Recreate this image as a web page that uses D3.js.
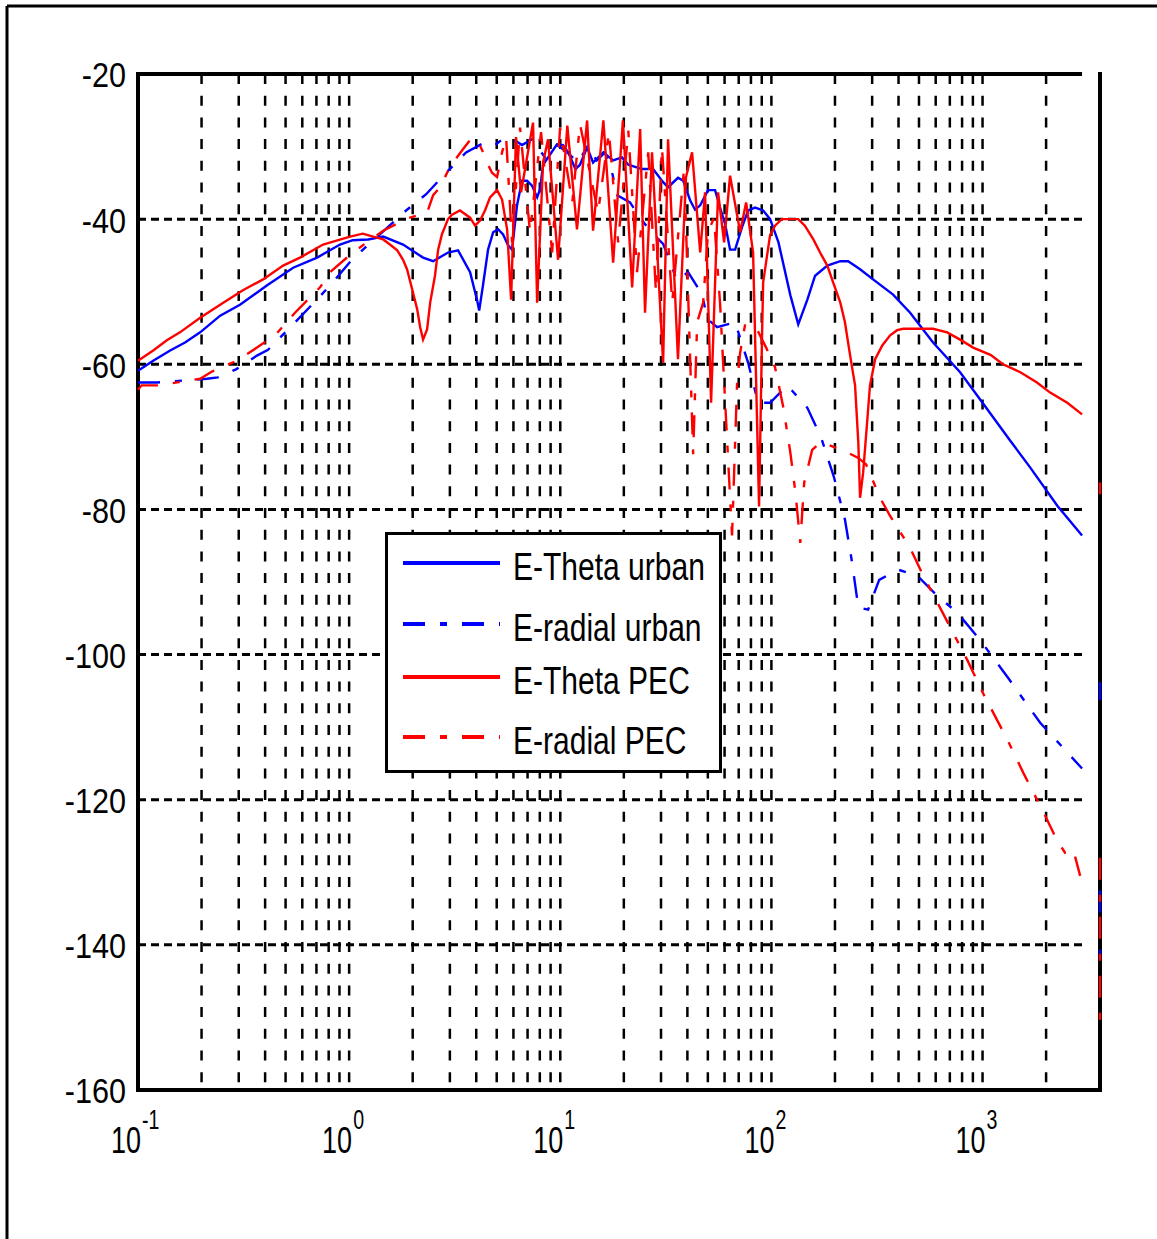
<!DOCTYPE html>
<html>
<head>
<meta charset="utf-8">
<script src="https://cdn.jsdelivr.net/npm/d3@7"></script>
<style>
body { margin: 0; background: #fff; }
svg { display: block; }
.lbl { font-family: "Liberation Sans", Arial, sans-serif; fill: #000; }
</style>
</head>
<body>
<svg id="chart" width="1157" height="1239"></svg>
<script>
// field level (dB) against frequency
// [frequency, dB]; null breaks the line
var thetaUrban = [[0.1,-60.9],[0.118,-59.5],[0.142,-58.1],[0.167,-57.0],[0.197,-55.6],[0.245,-53.3],[0.304,-51.8],[0.409,-49.1],[0.543,-46.7],[0.705,-45.3],[0.905,-43.5],[1.04,-42.9],[1.23,-42.8],[1.45,-42.4],[1.80,-43.5],[2.24,-45.3],[2.50,-45.8],[2.94,-44.6],[3.28,-44.3],[3.74,-47.3],[4.04,-51.2],[4.13,-52.6],[4.31,-49.0],[4.55,-44.2],[4.81,-41.8],[5.08,-41.4],[5.36,-42.1],[5.66,-43.6],[5.91,-44.2],[6.24,-38.1],[6.59,-34.7],[6.96,-34.7],[7.35,-35.4],[7.77,-37.0],[8.02,-35.9],[8.29,-32.5],[8.95,-31.1],[9.65,-29.7],[10.3,-29.8],[10.9,-30.8],[11.8,-33.1],[12.4,-32.5],[13.4,-30.1],[14.3,-32.2],[16.0,-30.8],[17.8,-31.9],[19.6,-31.5],[21.0,-32.5],[24.4,-33.1],[27.5,-33.1],[30.7,-34.9],[32.4,-35.6],[36.1,-34.3],[38.2,-34.7],[41.2,-37.4],[43.5,-38.7],[46.0,-38.1],[50.1,-36.0],[54.1,-36.0],[57.1,-38.4],[60.4,-40.7],[63.7,-44.2],[67.3,-44.2],[72.6,-41.1],[77.6,-38.8],[83.7,-38.4],[91.4,-38.8],[98.6,-40.0],[108,-43.2],[123,-50.5],[134,-54.5],[148,-51.1],[161,-47.8],[184,-46.4],[212,-45.8],[231,-45.8],[263,-46.9],[303,-48.3],[377,-50.4],[454,-52.9],[583,-57.0],[783,-61.1],[1000,-65.3],[1350,-70.5],[1680,-74.2],[2260,-79.5],[2960,-83.6]];

var radialUrban = [[0.1,-62.5],[0.123,-62.5],[0.212,-62.0],[0.239,-61.8],[0.291,-60.7],[0.366,-58.8],[0.413,-58.0],[0.446,-57.0],[0.543,-54.5],[0.697,-51.2],[0.821,-49.0],[1.03,-45.6],[1.88,-38.7],[2.31,-36.6],[2.88,-33.6],[3.58,-30.8],[4.40,-29.4],[4.91,-29.8],[5.48,-28.7],[5.91,-28.9],[6.59,-29.8],[7.35,-29.0],[8.47,-31.5],[9.65,-29.8],[10.8,-30.8],[12.1,-32.2],[13.4,-30.1],[14.9,-31.9],[16.3,-30.8],[17.6,-33.6],[18.6,-36.7],[21.4,-37.7],[23.9,-39.8],[26.6,-41.6],[30.7,-43.4],[35.8,-48.5],[40.3,-47.3],[47.0,-50.4],[49.6,-53.7],[55.3,-54.9],[67.3,-54.2],[77.6,-59.8],[86.5,-65.3],[98.6,-65.3],[119,-62.9],[148,-66.0],[172,-70.1],[198,-75.6],[223,-81.4],[241,-87.3],[258,-93.5],[287,-93.8],[324,-89.7],[398,-88.3],[490,-89.1],[610,-91.9],[758,-94.2],[974,-98.0],[1320,-103.2],[1875,-109.4],[2330,-112.4],[2960,-115.7],null,[3600,-103.8],[3600,-106.3],null,[3600,-132.5],[3600,-142]];

var thetaPec = [[0.1,-59.5],[0.118,-58.1],[0.137,-56.7],[0.158,-55.6],[0.197,-53.6],[0.245,-51.8],[0.314,-49.8],[0.391,-48.3],[0.487,-46.4],[0.585,-45.3],[0.753,-43.5],[1.01,-42.4],[1.16,-42.0],[1.30,-42.4],[1.45,-42.8],[1.56,-43.5],[1.69,-44.3],[1.80,-45.6],[1.88,-46.9],[1.99,-49.7],[2.10,-52.4],[2.17,-54.9],[2.24,-56.6],[2.34,-55.2],[2.42,-51.5],[2.55,-47.8],[2.64,-44.2],[2.75,-42.1],[2.94,-40.0],[3.07,-39.4],[3.35,-38.8],[3.74,-39.8],[3.95,-40.9],[4.17,-40.2],[4.40,-38.8],[4.65,-37.0],[5.02,-36.0],[5.30,-37.3],[5.60,-41.4],[5.85,-51.1],[6.17,-28.7],[6.52,-36.3],[6.96,-31.5],[7.43,-26.7],[7.77,-51.5],[8.29,-32.2],[8.75,-29.0],[9.76,-45.6],[10.8,-27.1],[12.0,-41.4],[13.4,-26.4],[14.3,-41.6],[16.0,-26.4],[17.8,-46.0],[19.8,-26.4],[21.9,-49.4],[23.9,-27.6],[25.2,-52.9],[27.2,-30.8],[30.7,-59.8],[32.4,-29.0],[36.1,-59.3],[39.4,-34.2],[42.1,-30.8],[46.0,-44.6],[48.5,-36.3],[51.8,-65.3],[55.9,-36.3],[59.7,-43.2],[63.7,-34.0],[71.1,-41.8],[75.9,-37.7],[81.9,-44.6],[87.4,-79.6],[90.3,-56.0],[91.4,-48.7],[95.4,-45.0],[98.6,-42.2],[104,-40.9],[112,-40.0],[134,-40.0],[144,-40.9],[158,-42.8],[170,-44.6],[184,-46.4],[196,-48.7],[212,-51.5],[223,-54.2],[236,-58.8],[249,-62.9],[258,-70.8],[263,-78.4],[272,-74.9],[284,-68.0],[293,-62.9],[310,-59.3],[335,-57.4],[365,-56.0],[394,-55.3],[421,-55.1],[583,-55.1],[680,-55.6],[783,-56.6],[903,-57.7],[1090,-58.7],[1250,-60.0],[1510,-61.1],[1810,-62.5],[2090,-63.9],[2520,-65.3],[2960,-66.9]];

var radialPec = [[0.1,-63.5],[0.104,-62.9],[0.124,-62.9],[0.153,-62.5],[0.197,-62.0],[0.224,-61.0],[0.294,-59.5],[0.366,-57.7],[0.446,-56.0],[0.554,-52.9],[0.728,-49.4],[0.812,-47.3],[1.04,-44.6],[1.45,-41.6],[1.88,-39.9],[2.34,-39.1],[2.50,-36.7],[2.70,-35.6],[2.91,-33.6],[3.11,-32.2],[3.43,-30.5],[3.74,-29.1],[4.04,-29.0],[4.31,-30.8],[4.50,-32.2],[4.75,-33.6],[5.02,-34.2],[5.30,-30.8],[5.54,-28.7],[5.91,-43.2],[6.45,-27.4],[7.19,-41.8],[8.11,-28.0],[9.15,-44.6],[9.98,-27.4],[11.4,-37.7],[12.4,-26.9],[15.1,-39.1],[17.0,-28.0],[18.8,-43.2],[21.0,-27.8],[23.1,-47.3],[26.1,-30.8],[28.4,-50.1],[30.3,-30.1],[33.9,-51.5],[38.6,-32.9],[42.6,-72.4],[44.5,-54.2],[47.5,-51.5],[50.1,-41.8],[53.5,-39.8],[57.1,-51.5],[65.1,-83.6],[68.8,-62.5],[71.1,-58.4],[75.1,-54.5],[85.5,-55.2],[94.4,-57.7],[104,-60.4],[114,-66.0],[123,-72.2],[130,-77.7],[137,-84.6],[143,-76.3],[156,-71.8],[170,-70.8],[186,-71.1],[231,-72.2],[258,-72.9],[281,-73.8],[327,-78.4],[365,-80.9],[454,-85.3],[523,-89.1],[610,-92.8],[845,-100.7],[1000,-105.2],[1320,-111.9],[1560,-116.3],[1980,-122.2],[2260,-125.7],[2460,-127.3],[2690,-126.9],[2900,-130.5],null,[3600,-76.3],[3600,-77.9],null,[3600,-128],[3600,-151.5]];

var legendNames = ['E-Theta urban', 'E-radial urban', 'E-Theta PEC', 'E-radial PEC'];
var yTicks = [-20, -40, -60, -80, -100, -120, -140, -160];
var yGrid = [-40, -60, -80, -100, -120, -140];
var xExponents = [-1, 0, 1, 2, 3];
var xGrid = [0.2,0.3,0.4,0.5,0.6,0.7,0.8,0.9,1,2,3,4,5,6,7,8,9,10,20,30,40,50,60,70,80,90,100,200,300,400,500,600,700,800,900,1000,2000];
var xGridEnd = 2960;   // last sample, grid and top edge stop here

var svg = d3.select('#chart');
var x = d3.scaleLog().domain([0.1, 3600]).range([138, 1100]);
var y = d3.scaleLinear().domain([-20, -160]).range([74, 1090]);

// outer frame (only left and top show in the picture)
svg.append('line').attr('x1', 7).attr('y1', 6).attr('x2', 7).attr('y2', 1239)
    .attr('stroke', '#000').attr('stroke-width', 3);
svg.append('line').attr('x1', 7).attr('y1', 6).attr('x2', 1157).attr('y2', 6)
    .attr('stroke', '#000').attr('stroke-width', 3);

// grid
svg.append('g').selectAll('line')
    .data(xGrid)
    .enter()
    .append('line')
        .attr('x1', function(d) { return x(d); })
        .attr('x2', function(d) { return x(d); })
        .attr('y1', y(-20))
        .attr('y2', y(-160))
        .attr('stroke', '#000')
        .attr('stroke-width', 2.5)
        .attr('stroke-dasharray', '10,11.7');
svg.append('g').selectAll('line')
    .data(yGrid)
    .enter()
    .append('line')
        .attr('x1', x(0.1))
        .attr('x2', x(xGridEnd))
        .attr('y1', function(d) { return y(d); })
        .attr('y2', function(d) { return y(d); })
        .attr('stroke', '#000')
        .attr('stroke-width', 3)
        .attr('stroke-dasharray', '8,5');

// axes box
var frame = svg.append('g').attr('stroke', '#000').attr('stroke-width', 4);
frame.append('line').attr('x1', x(0.1)).attr('x2', x(0.1)).attr('y1', y(-20) - 2).attr('y2', y(-160) + 2);
frame.append('line').attr('x1', x(0.1)).attr('x2', x(xGridEnd)).attr('y1', y(-20)).attr('y2', y(-20));
frame.append('line').attr('x1', x(0.1)).attr('x2', x(3600) + 2).attr('y1', y(-160)).attr('y2', y(-160));
frame.append('line').attr('x1', x(3600)).attr('x2', x(3600)).attr('y1', y(-20) - 2).attr('y2', y(-160));

// y tick labels (narrow glyphs like the original)
var yAxis = d3.axisLeft(y).tickValues(yTicks).tickSize(0).tickPadding(0)
    .tickFormat(function(d) { return String(d); });
var ya = svg.append('g').attr('transform', 'translate(' + x(0.1) + ',0)').call(yAxis);
ya.select('.domain').remove();
ya.selectAll('text')
    .attr('class', 'lbl')
    .attr('font-size', 36)
    .attr('x', 0)
    .attr('dy', '0.36em')
    .attr('transform', 'translate(-12,0) scale(0.85,1)');

// x tick labels, 10 with superscript exponent
var xl = svg.append('g').selectAll('g')
    .data(xExponents)
    .enter()
    .append('g')
        .attr('transform', function(e) { return 'translate(' + x(Math.pow(10, e)) + ',0)'; });
xl.append('text')
    .attr('class', 'lbl')
    .attr('font-size', 36)
    .attr('text-anchor', 'end')
    .attr('transform', 'translate(3,1153) scale(0.75,1)')
    .text('10');
xl.append('text')
    .attr('class', 'lbl')
    .attr('font-size', 28)
    .attr('transform', 'translate(4,1129) scale(0.7,1)')
    .text(function(e) { return e; });

// curves
var clip = svg.append('clipPath').attr('id', 'plotclip');
clip.append('rect').attr('x', x(0.1) - 2).attr('y', y(-20)).attr('width', x(3600) - x(0.1) + 4).attr('height', y(-160) - y(-20));

var line = d3.line()
    .defined(function(d) { return d != null; })
    .x(function(d) { return x(d[0]); })
    .y(function(d) { return y(d[1]); });

var curves = [
    { data: thetaUrban, color: '#0000ff', dash: null },
    { data: radialUrban, color: '#0000ff', dash: '22,15,7,15' },
    { data: thetaPec, color: '#ff0000', dash: null },
    { data: radialPec, color: '#ff0000', dash: '22,15,7,15' }
];

svg.append('g').attr('clip-path', 'url(#plotclip)')
    .selectAll('path')
    .data(curves)
    .enter()
    .append('path')
        .attr('d', function(c) { return line(c.data); })
        .attr('fill', 'none')
        .attr('stroke', function(c) { return c.color; })
        .attr('stroke-width', 2.4)
        .attr('stroke-dasharray', function(c) { return c.dash; });

// legend
var lg = svg.append('g');
lg.append('rect')
    .attr('x', 386.5).attr('y', 533.5).attr('width', 334).attr('height', 238)
    .attr('fill', '#fff').attr('stroke', '#000').attr('stroke-width', 3);
var rows = [563, 624, 677, 737];
var items = lg.selectAll('g.item')
    .data(curves)
    .enter()
    .append('g')
        .attr('class', 'item')
        .attr('transform', function(c, i) { return 'translate(0,' + rows[i] + ')'; });
items.append('line')
    .attr('x1', 403).attr('x2', 500)
    .attr('stroke', function(c) { return c.color; })
    .attr('stroke-width', 4)
    .attr('stroke-dasharray', function(c) { return c.dash; });
items.append('text')
    .attr('class', 'lbl')
    .attr('font-size', 38)
    .attr('transform', 'translate(513,16.5) scale(0.79,1)')
    .text(function(c, i) { return legendNames[i]; });
</script>
</body>
</html>
